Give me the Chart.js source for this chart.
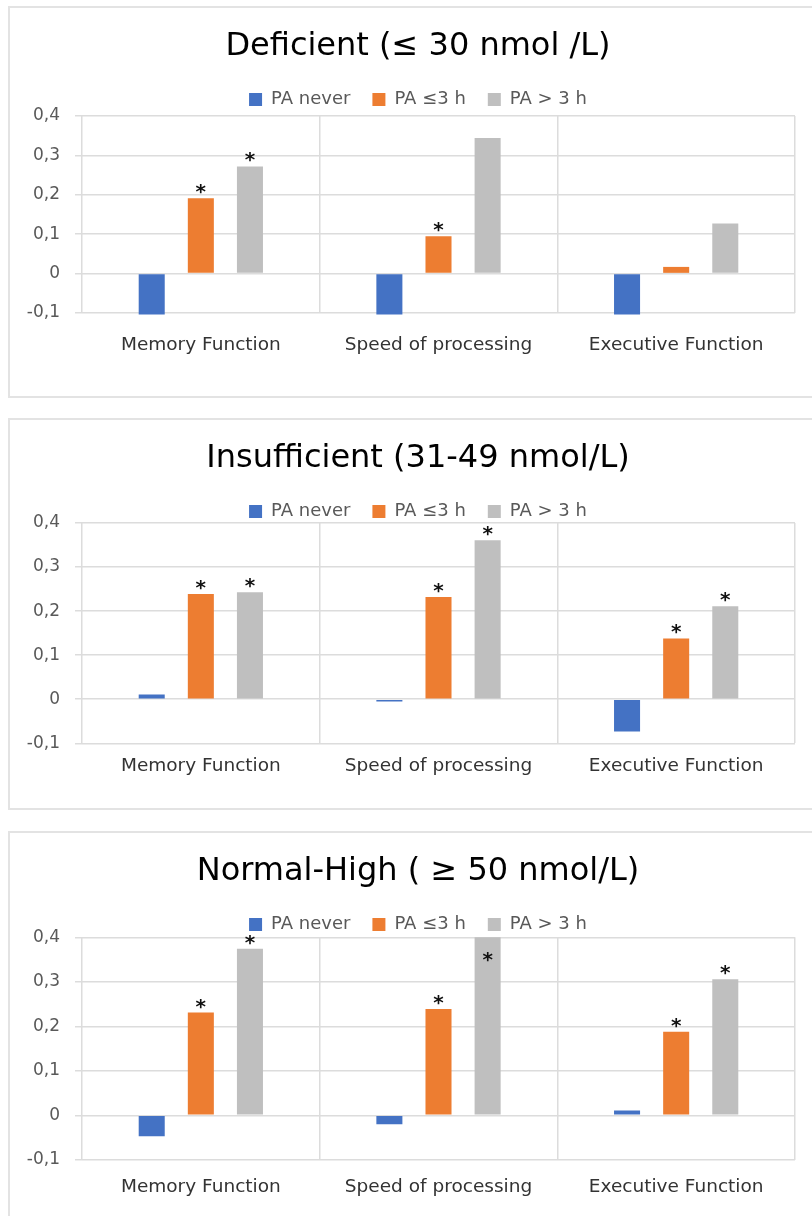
<!DOCTYPE html>
<html>
<head>
<meta charset="utf-8">
<script src="https://cdn.jsdelivr.net/npm/chart.js@4.4.0/dist/chart.umd.min.js"></script>
<style>
  html, body { margin: 0; padding: 0; background: #fff; overflow: hidden; width: 812px; height: 1216px; }
  .box { position: absolute; left: 8px; width: 820px; border: 2px solid #e3e3e3; background: #fff; }
  .box > div { position: relative; width: 802px; }
</style>
</head>
<body>
<div class="box" style="top:6px"><div style="height:388px"><canvas id="deficient"></canvas></div></div>
<div class="box" style="top:418px"><div style="height:388px"><canvas id="insufficient"></canvas></div></div>
<div class="box" style="top:831px"><div style="height:400px"><canvas id="normal"></canvas></div></div>
<script>
const categories = ['Memory Function', 'Speed of processing', 'Executive Function']
const seriesNames = ['PA never', 'PA ≤3 h', 'PA > 3 h']
const colors = ['#4472C4', '#ED7D31', '#BFBFBF']

// Deficient (<= 30 nmol/L)
const deficientNever = [-0.104, -0.104, -0.104]
const deficientLow = [0.191, 0.095, 0.017]
const deficientHigh = [0.272, 0.344, 0.127]
// 1 = significant (*)
const deficientStarsLow = [1, 1, 0]
const deficientStarsHigh = [1, 0, 0]

// Insufficient (31-49 nmol/L)
const insufficientNever = [0.011, -0.005, -0.073]
const insufficientLow = [0.239, 0.232, 0.138]
const insufficientHigh = [0.243, 0.361, 0.211]
const insufficientStarsLow = [1, 1, 1]
const insufficientStarsHigh = [1, 1, 1]

// Normal-High (>= 50 nmol/L)
const normalNever = [-0.047, -0.020, 0.011]
const normalLow = [0.231, 0.239, 0.188]
const normalHigh = [0.374, 0.42, 0.306]
const normalStarsLow = [1, 1, 1]
const normalStarsHigh = [1, 1, 1]

const noStars = [0, 0, 0]

const fontFamily = '"DejaVu Sans", Verdana, sans-serif'

// draws the * above the significant bars
const starPlugin = {
  id: 'stars',
  afterDatasetsDraw(chart, args, opts) {
    const {ctx, chartArea} = chart
    ctx.save()
    ctx.font = 'bold 20px ' + fontFamily
    ctx.fillStyle = '#111'
    ctx.textAlign = 'center'
    ctx.textBaseline = 'alphabetic'
    opts.marks.forEach((flags, di) => {
      const meta = chart.getDatasetMeta(di)
      flags.forEach((on, i) => {
        if (!on) return
        const bar = meta.data[i]
        let y = bar.y
        if (y < chartArea.top) y = chartArea.top + 29 // bar runs off the top, star goes inside
        ctx.fillText('*', bar.x, y)
      })
    })
    ctx.restore()
  }
}

function makeChart(id, title, values, marks, fit) {
  return new Chart(document.getElementById(id), {
    type: 'bar',
    data: {
      labels: categories,
      datasets: values.map((v, i) => ({
        label: seriesNames[i],
        data: v,
        backgroundColor: colors[i],
        categoryPercentage: 0.62,
        barPercentage: 0.53,
        clip: {left: 0, top: 0, right: 0, bottom: 4}
      }))
    },
    options: {
      responsive: true,
      maintainAspectRatio: false,
      animation: false,
      layout: {padding: {left: 15, right: 1, top: 0, bottom: fit.bottom}},
      plugins: {
        title: {
          display: true,
          text: title,
          color: '#000',
          font: {family: fontFamily, size: 32, weight: 'normal', lineHeight: 0.975},
          padding: {top: 23.4, bottom: 6}
        },
        legend: {
          position: 'top',
          maxHeight: fit.legend,
          labels: {
            boxWidth: 13,
            boxHeight: 13,
            padding: 22,
            color: '#595959',
            font: {family: fontFamily, size: 18}
          }
        },
        tooltip: {enabled: false},
        stars: {marks}
      },
      scales: {
        x: {
          grid: {color: '#dcdcdc', lineWidth: 1.5, drawTicks: false, offset: true},
          border: {display: false},
          ticks: {color: '#333', padding: fit.labelPad, maxRotation: 0, font: {family: fontFamily, size: 18.5}}
        },
        y: {
          min: -0.1,
          max: 0.4,
          grid: {color: '#dcdcdc', lineWidth: 1.5, tickLength: 7},
          border: {display: false},
          afterFit: scale => { scale.width = 57 },
          ticks: {
            stepSize: 0.1,
            padding: 15,
            color: '#595959',
            font: {family: fontFamily, size: 17},
            callback: v => Math.abs(v) < 1e-9 ? '0' : v.toFixed(1).replace('.', ',')
          }
        },
        // empty right-hand spacer so the title and legend sit where the original has them
        spacer: {
          type: 'linear',
          position: 'right',
          grid: {drawOnChartArea: false, drawTicks: false},
          border: {display: false},
          ticks: {display: false},
          afterFit: scale => { scale.width = 16 }
        }
      }
    },
    plugins: [starPlugin]
  })
}

makeChart('deficient', 'Deficient (≤ 30 nmol /L)',
  [deficientNever, deficientLow, deficientHigh],
  [noStars, deficientStarsLow, deficientStarsHigh],
  {legend: 47.4, labelPad: 21, bottom: 18.8})

makeChart('insufficient', 'Insufficient (31-49 nmol/L)',
  [insufficientNever, insufficientLow, insufficientHigh],
  [noStars, insufficientStarsLow, insufficientStarsHigh],
  {legend: 42.4, labelPad: 11.6, bottom: 19.3})

makeChart('normal', 'Normal-High ( ≥ 50 nmol/L)',
  [normalNever, normalLow, normalHigh],
  [noStars, normalStarsLow, normalStarsHigh],
  {legend: 43.7, labelPad: 16.1, bottom: 18.8})
</script>
</body>
</html>
